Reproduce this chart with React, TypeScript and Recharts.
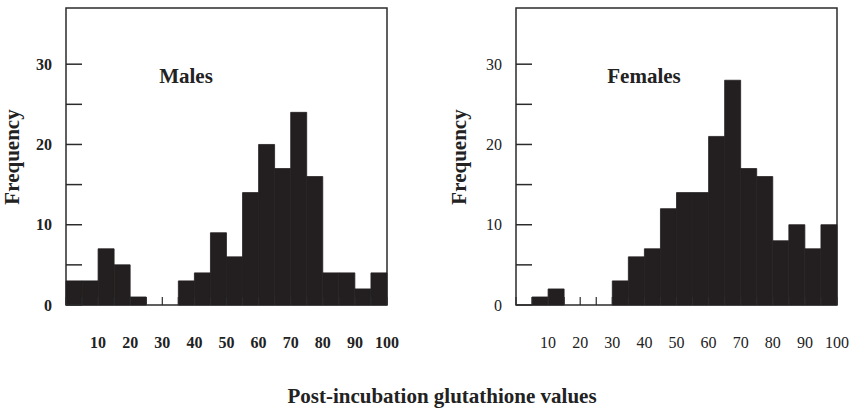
import { BarChart, Bar, XAxis, YAxis, ReferenceArea } from 'recharts';

// bin centres (5-unit bins from 0 to 100)
const binCenters = [2.5, 7.5, 12.5, 17.5, 22.5, 27.5, 32.5, 37.5, 42.5, 47.5, 52.5, 57.5, 62.5, 67.5, 72.5, 77.5, 82.5, 87.5, 92.5, 97.5];
const malesFreq = [3, 3, 7, 5, 1, 0, 0, 3, 4, 9, 6, 14, 20, 17, 24, 16, 4, 4, 2, 4];
const femalesFreq = [0, 1, 2, 0, 0, 0, 3, 6, 7, 12, 14, 14, 21, 28, 17, 16, 8, 10, 7, 10];

const xTicks = [0, 5, 10, 15, 20, 25, 30, 35, 40, 45, 50, 55, 60, 65, 70, 75, 80, 85, 90, 95, 100];
const xTickLabels = [10, 20, 30, 40, 50, 60, 70, 80, 90, 100];
const yTicks = [0, 5, 10, 15, 20, 25, 30];
const yTickLabels = [0, 10, 20, 30];

const FONT = '"Liberation Serif", "Times New Roman", serif';
const BAR = '#231f20';
const INK = '#2b2b2b';

const malesData = binCenters.map((x, i) => ({ x, freq: malesFreq[i] }));
const femalesData = binCenters.map((x, i) => ({ x, freq: femalesFreq[i] }));

function makeXTick(bold: boolean) {
  return (props: any) => {
    const { x, y, payload } = props;
    const v = payload.value;
    return (
      <g>
        <line x1={x} y1={y} x2={x} y2={y - 8} stroke={INK} strokeWidth={1.2} />
        {xTickLabels.includes(v) && (
          <text x={x} y={y + 43} textAnchor="middle" fontFamily={FONT} fontSize={16} fontWeight={bold ? 'bold' : 'normal'} fill="#222">
            {v}
          </text>
        )}
      </g>
    );
  };
}

function makeYTick(bold: boolean) {
  return (props: any) => {
    const { x, y, payload } = props;
    const v = payload.value;
    return (
      <g>
        <line x1={x} y1={y} x2={x + 16} y2={y} stroke={INK} strokeWidth={1.5} />
        {yTickLabels.includes(v) && (
          <text x={x - 14} y={y + 5.5} textAnchor="end" fontFamily={FONT} fontSize={16} fontWeight={bold ? 'bold' : 'normal'} fill="#222">
            {v}
          </text>
        )}
      </g>
    );
  };
}

function Histogram({ data, bold, yAxisWidth, rightMargin, width }: { data: { x: number; freq: number }[]; bold: boolean; yAxisWidth: number; rightMargin: number; width: number }) {
  return (
    <BarChart width={width} height={360} data={data} margin={{ top: 8, right: rightMargin, left: 0, bottom: 0 }}>
      <XAxis
        dataKey="x"
        type="number"
        domain={[0, 100]}
        ticks={xTicks}
        interval={0}
        height={55}
        axisLine={false}
        tickLine={false}
        tickSize={0}
        tickMargin={0}
        tick={makeXTick(bold)}
      />
      <YAxis
        type="number"
        domain={[0, 37]}
        ticks={yTicks}
        interval={0}
        width={yAxisWidth}
        axisLine={false}
        tickLine={false}
        tickSize={0}
        tickMargin={0}
        tick={makeYTick(bold)}
      />
      <ReferenceArea x1={0} x2={100} y1={0} y2={37} fill="none" stroke={INK} strokeWidth={1.5} strokeOpacity={1} />
      <Bar dataKey="freq" fill={BAR} stroke={BAR} strokeWidth={0.8} barSize={16} isAnimationActive={false} />
    </BarChart>
  );
}

export default function App() {
  return (
    <div style={{ position: 'absolute', left: 0, top: 0, width: 859, height: 408, background: '#fff', overflow: 'hidden' }}>
      <div style={{ position: 'absolute', left: 0, top: 0 }}>
        <Histogram data={malesData} bold={true} yAxisWidth={66} rightMargin={43} width={430} />
      </div>
      <div style={{ position: 'absolute', left: 430, top: 0 }}>
        <Histogram data={femalesData} bold={false} yAxisWidth={86} rightMargin={22} width={429} />
      </div>
      <svg width={859} height={408} style={{ position: 'absolute', left: 0, top: 0, pointerEvents: 'none' }}>
        <g fontFamily={FONT} fontWeight="bold" fill="#222" fontSize={21}>
          <text x={186} y={83} textAnchor="middle">Males</text>
          <text x={644} y={83} textAnchor="middle">Females</text>
          <text x={19} y={157} textAnchor="middle" transform="rotate(-90 19 157)">Frequency</text>
          <text x={466} y={157} textAnchor="middle" transform="rotate(-90 466 157)">Frequency</text>
          <text x={442} y={403} textAnchor="middle">Post-incubation glutathione values</text>
        </g>
      </svg>
    </div>
  );
}
